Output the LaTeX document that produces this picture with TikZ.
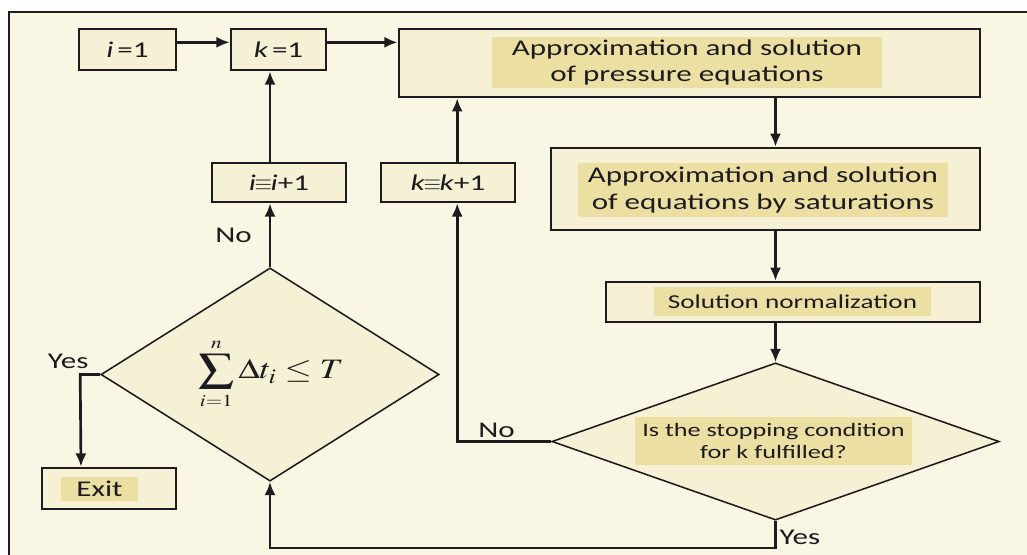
\documentclass[tikz,border=0pt]{standalone}
\usepackage{mathptmx}
\usepackage{fontspec}
\usepackage{graphicx}
\setmainfont[FakeStretch=1.38]{Carlito}
\usetikzlibrary{arrows.meta,positioning,shapes.geometric,calc}

\definecolor{paper}{RGB}{250,246,228}
\definecolor{boxfill}{RGB}{246,240,212}
\definecolor{hlfill}{RGB}{236,223,162}
\definecolor{ink}{RGB}{28,28,32}

\begin{document}
\begin{tikzpicture}[
  x=0.025cm,y=-0.025cm,
  font=\fontsize{16}{18.5}\selectfont,
  >={Latex[length=0.33cm,width=0.28cm]},
  box/.style={draw=ink,line width=1.8pt,fill=boxfill,inner sep=0pt,align=center,text=ink},
  hl/.style={fill=hlfill,inner sep=0pt,align=center,text=ink},
  cond/.style={diamond,draw=ink,line width=1.1pt,fill=boxfill,inner sep=0pt,aspect=2},
  line/.style={->,line width=1.9pt,ink},
  lbl/.style={text=ink,inner sep=2pt}
]
\useasboundingbox (0,0) rectangle (1027,554);
\clip (0,0) rectangle (1027,554);
\fill[white] (0,0) rectangle (1027,554);
\draw[line width=1.2pt,ink,fill=paper] (9,12) rectangle (1040,570);

% counters and the outer loop
\node[box,minimum width=2.43cm,minimum height=1.03cm] (i1) at (127.5,49.5) {\textit{i}\,=1};
\node[box,minimum width=2.38cm,minimum height=1.03cm] (k1) at (278.5,49.5) {\textit{k}\,=1};
\node[box,minimum width=3.35cm,minimum height=0.98cm] (ii1) at (279,182.5) {\textit{i}\kern-1pt$\equiv$\kern-1pt\textit{i}+1};
\node[box,minimum width=3.35cm,minimum height=0.98cm] (kk1) at (448,182.5) {\textit{k}\kern-1pt$\equiv$\kern-1pt\textit{k}+1};
\node[cond,minimum width=8.45cm,minimum height=5.33cm] (sum) at (270,374.5) {};
\node[text=ink] (sumtxt) at (271,374) {\scalebox{1.25}[1]{\fontsize{20}{24}\selectfont$\displaystyle\sum_{\scriptscriptstyle i=1}^{\scriptscriptstyle n}\Delta t_{i}\leq T$}};
\node[box,minimum width=3.35cm,minimum height=1.03cm] (exit) at (109,488.5) {};
\node[hl,minimum width=1.93cm,minimum height=0.6cm] (exittxt) at (99.5,489) {Exit};

% pressure / saturation steps
\node[box,minimum width=14.53cm,minimum height=1.7cm] (press) at (689.5,63) {};
\node[hl,minimum width=9.75cm,minimum height=1.28cm] (presstxt) at (687,62.5) {Approximation and solution\\of pressure equations};
\node[box,minimum width=10.73cm,minimum height=2.05cm] (sat) at (765.5,189) {};
\node[hl,minimum width=9.25cm,minimum height=1.35cm] (sattxt) at (763,190) {Approximation and solution\\of equations by saturations};
\node[box,minimum width=9.35cm,minimum height=1.0cm] (norm) at (793,302) {};
\node[hl,minimum width=6.93cm,minimum height=0.73cm,font=\fontsize{14}{17}\selectfont] (normtxt) at (792.5,301.5) {Solution normalization};
\node[cond,minimum width=11.18cm,minimum height=3.93cm] (stop) at (775.5,441.5) {};
\node[hl,minimum width=6.93cm,minimum height=1.2cm,font=\fontsize{13.5}{15.5}\selectfont] (stoptxt) at (773.5,441) {Is the stopping condition\\for k fulfilled?};

% connectors
\draw[line] ([yshift=.18cm]i1.east) -- ([yshift=.18cm]k1.west);
\draw[line] ([yshift=.18cm]k1.east) -- ([yshift=.18cm]k1.east -| press.west);
\draw[line] (ii1.north -| sum.north) -- (k1.south -| sum.north);
\draw[line] (sum.north) -- node[lbl,left=0.35cm] {No} (ii1.south -| sum.north);
\draw[line] ([xshift=.23cm]kk1.north) -- ([xshift=.23cm]kk1.north |- press.south);
\draw[line] (stop.west) -| node[lbl,pos=.29,above] {No} ([xshift=.23cm]kk1.south);
\draw[line] (stop.north |- press.south) -- (stop.north |- sat.north);
\draw[line] (stop.north |- sat.south) -- (stop.north |- norm.north);
\draw[line] (stop.north |- norm.south) -- (stop.north);
\draw[line] (stop.south) -- ++(0,27) node[lbl,pos=.6,right] {Yes} -| (sum.south);
\draw[line] (sum.west) -- ++(-20,0) node[lbl,pos=1,above,yshift=.05cm,xshift=-.3cm] {Yes} -- ([xshift=-.7cm]exit.north);
\end{tikzpicture}
\end{document}
